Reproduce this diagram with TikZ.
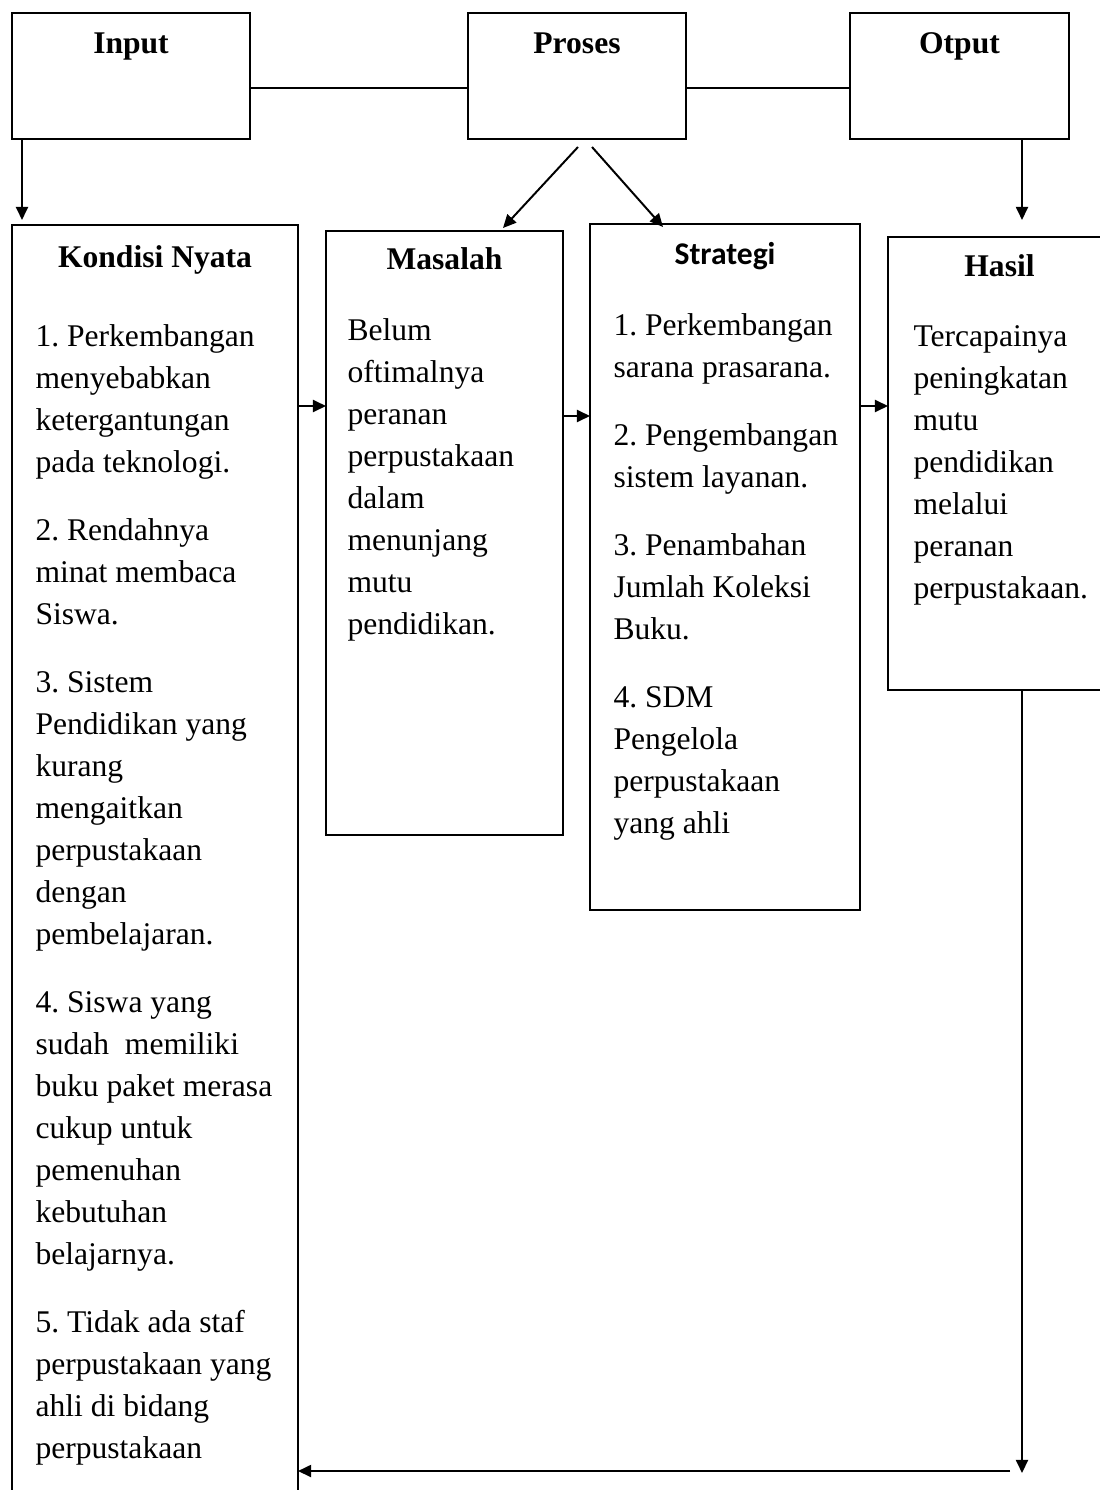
\documentclass[tikz,border=0pt]{standalone}
\usepackage{fontspec}
\setmainfont{Liberation Serif}
\newfontfamily\calibri{Carlito}
\usetikzlibrary{positioning, arrows.meta, calc}
\frenchspacing

\begin{document}
\begin{tikzpicture}[
  x=0.38pt, y=-0.38pt,
  font=\fontsize{12}{15.96}\selectfont,
  box/.style={rectangle, draw=black, line width=0.7pt, inner sep=0pt,
              outer sep=0pt, anchor=north west},
  ttl/.style={font=\fontsize{12}{15.96}\selectfont\bfseries, anchor=base,
              inner sep=0pt},
  txt/.style={align=left, anchor=north west, inner sep=0pt},
  con/.style={line width=0.75pt},
  arr/.style={-{Triangle[length=5pt, width=4.6pt]}, line width=0.75pt}
]
\useasboundingbox (0,0) rectangle (1100,1490);
\clip (0,0) rectangle (1100,1490);

% --- top row: input, proses, output ---
\node[box, minimum width=238*0.38pt, minimum height=126*0.38pt] at (12,13)  (inp) {};
\node[box, minimum width=218*0.38pt, minimum height=126*0.38pt] at (468,13) (pro) {};
\node[box, minimum width=219*0.38pt, minimum height=126*0.38pt] at (850,13) (out) {};
\node[ttl] at ($(inp.north)+(0,41)$) (inp-t) {Input};
\node[ttl] at ($(pro.north)+(0,41)$) (pro-t) {Proses};
\node[ttl] at ($(out.north)+(0,41)$) (out-t) {Otput};

% --- lower row: four columns ---
\node[box, minimum width=286*0.38pt, minimum height=1300*0.38pt] at (12,225)  (kon) {};
\node[box, minimum width=237*0.38pt, minimum height=604*0.38pt]  at (326,231) (mas) {};
\node[box, minimum width=270*0.38pt, minimum height=686*0.38pt]  at (590,224) (str) {};
\node[box, minimum width=223*0.38pt, minimum height=453*0.38pt]  at (888,237) (has) {};

\node[ttl] at ($(kon.north)+(0,42)$) (kon-t) {Kondisi Nyata};
\node[ttl] at ($(mas.north)+(0,39)$) (mas-t) {Masalah};
\node[ttl, font=\fontsize{12}{15.96}\selectfont\calibri\bfseries]
           at ($(str.north)+(0,41)$) (str-t) {Strategi};
\node[ttl] at ($(has.north)+(0,40)$) (has-t) {Hasil};

\node[txt] at ($(kon.north west)+(23,99)$) (kon-b) {%
  1. Perkembangan\\menyebabkan\\ketergantungan\\pada teknologi.\\[9.9pt]
  2. Rendahnya\\minat membaca\\Siswa.\\[9.9pt]
  3. Sistem\\Pendidikan yang\\kurang\\mengaitkan\\perpustakaan\\dengan\\pembelajaran.\\[9.9pt]
  4. Siswa yang\\sudah\ \ memiliki\\buku paket merasa\\cukup untuk\\pemenuhan\\kebutuhan\\belajarnya.\\[9.9pt]
  5. Tidak ada staf\\perpustakaan yang\\ahli di bidang\\perpustakaan};
\node[txt] at ($(mas.north west)+(21,87)$) (mas-b) {%
  Belum\\oftimalnya\\peranan\\perpustakaan\\dalam\\menunjang\\mutu\\pendidikan.};
\node[txt] at ($(str.north west)+(23,89)$) (str-b) {%
  1. Perkembangan\\sarana prasarana.\\[9.9pt]
  2. Pengembangan\\sistem layanan.\\[9.9pt]
  3. Penambahan\\Jumlah Koleksi\\Buku.\\[9.9pt]
  4. SDM\\Pengelola\\perpustakaan\\yang ahli};
\node[txt] at ($(has.north west)+(25,88)$) (has-b) {%
  Tercapainya\\peningkatan\\mutu\\pendidikan\\melalui\\peranan\\perpustakaan.};

% --- lines between the top boxes ---
\coordinate (c1) at ($(inp.north east)+(0,75)$);
\draw[con] (c1) -- (c1 -| pro.west);
\coordinate (c2) at ($(pro.north east)+(0,75)$);
\draw[con] (c2) -- (c2 -| out.west);

% --- arrows: top row down ---
\coordinate (a1) at ($(inp.south west)+(10,0)$);
\draw[arr] (a1) -- ($(a1 |- kon.north)+(0,-5)$);
\draw[arr] ($(pro.south)+(1,8)$)  -- ($(mas.north west)+(177,-3)$);
\draw[arr] ($(pro.south)+(15,8)$) -- ($(str.north west)+(73,3)$);
\coordinate (a2) at ($(out.south)+(62.5,0)$);
\draw[arr] (a2) -- ($(a2 |- has.north)+(0,-17)$);

% --- arrows: column to column ---
\coordinate (b1) at ($(kon.north east)+(0,181)$);
\draw[arr] (b1) -- (b1 -| mas.west);
\coordinate (b2) at ($(mas.north east)+(0,185)$);
\draw[arr] (b2) -- (b2 -| str.west);
\coordinate (b3) at ($(str.north east)+(0,182)$);
\draw[arr] (b3) -- (b3 -| has.west);

% --- feedback: hasil back to kondisi ---
\coordinate (f1) at (has.south -| a2);
\coordinate (f2) at ($(f1)+(0,783)$);
\draw[arr] (f1) -- (f2);
\coordinate (f3) at ($(f2)+(-12,-2)$);
\draw[arr] (f3) -- (f3 -| kon.east);
\end{tikzpicture}
\end{document}
